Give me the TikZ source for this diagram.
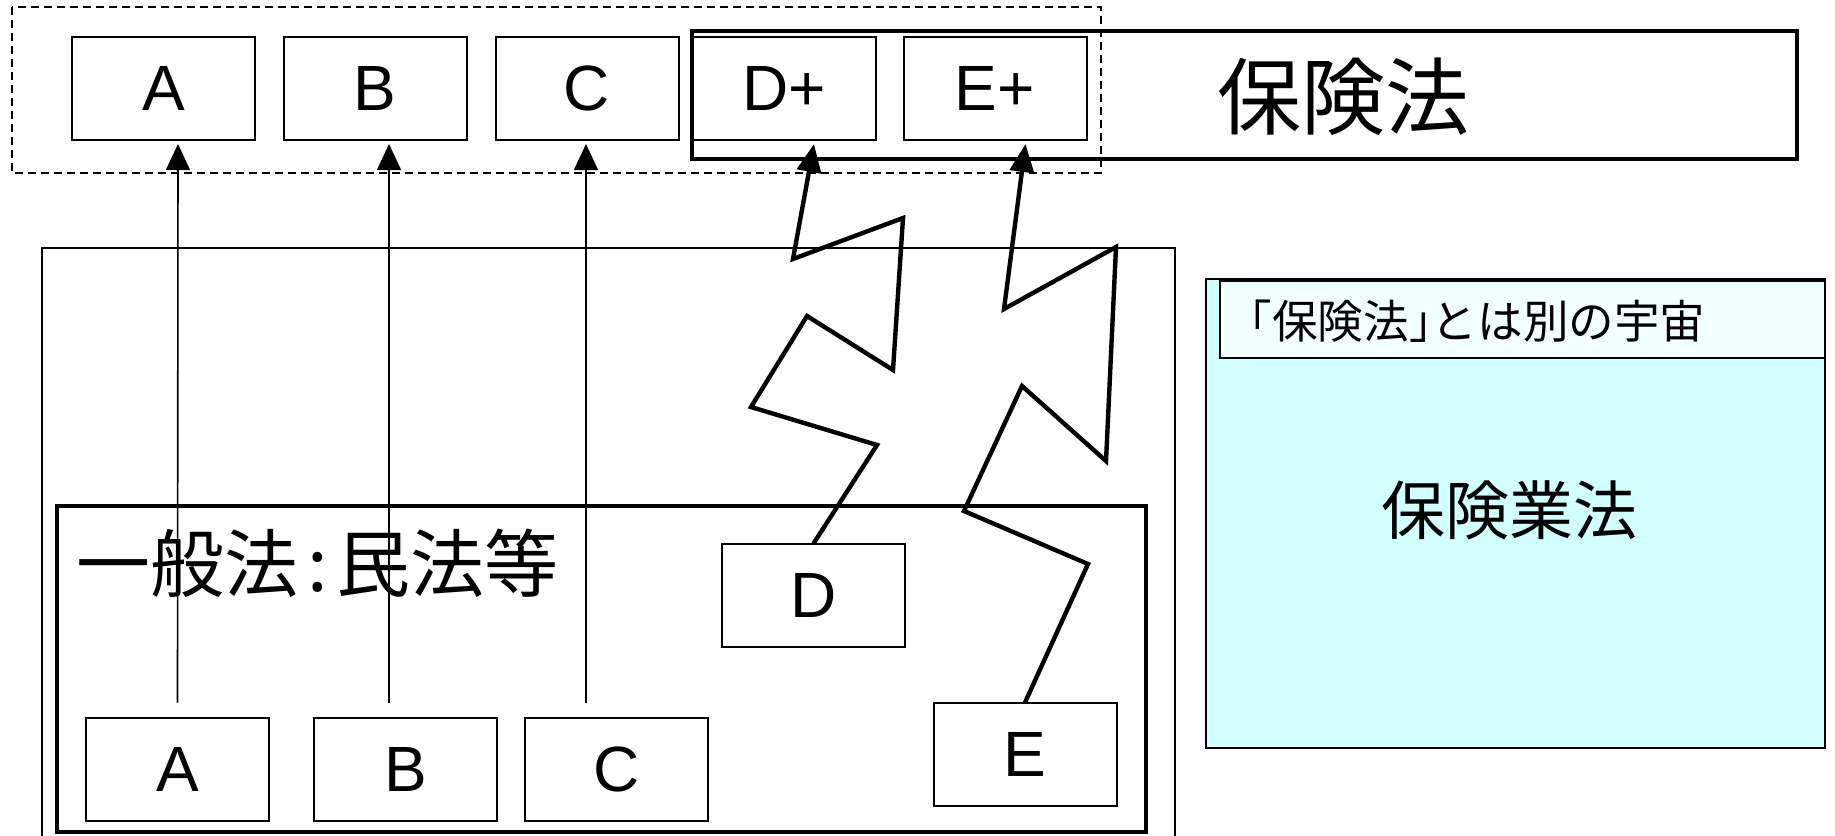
\documentclass[tikz,border=0pt]{standalone}
\usepackage{fontspec}
\setmainfont{Liberation Sans}
\newfontfamily\jp{Noto Sans CJK JP}
\newfontfamily\jph[RawFeature={+halt}]{Noto Sans CJK JP}
\usetikzlibrary{arrows.meta,calc}
\definecolor{cyanbg}{HTML}{D2FFFF}
\definecolor{headbg}{HTML}{F2FFFF}
\tikzset{
  letterbox/.style={draw, line width=1pt, fill=white, minimum width=91.5pt, minimum height=51.5pt,
    inner sep=0pt, outer sep=0pt, font=\fontsize{32}{32}\selectfont},
  thinarrow/.style={line width=0.8pt, -{Triangle[length=13pt,width=12pt]}},
  zig/.style={line width=2.2pt, line join=miter, -{Triangle[length=14pt,width=12pt]}},
  plainbox/.style={draw, inner sep=0pt, outer sep=0pt},
}
\begin{document}
\begin{tikzpicture}[x=0.5pt,y=-0.5pt]
\useasboundingbox (0,0) rectangle (1835,835);
\clip (0,0) rectangle (1835,835);
% dashed group
\draw[line width=0.7pt, dash pattern=on 4pt off 2.5pt] (12,7) rectangle (1101,173);
% 保険法 box
\node[plainbox, line width=2.3pt, minimum width=552.5pt, minimum height=64pt] (hokenbox) at (1244.5,95) {};
\node[font=\jp\fontsize{42}{42}\selectfont, inner sep=0pt] (hoken) at (1343,97) {保険法};
% top boxes
\node[letterbox] (At) at (163.5,88.5) {A};
\node[letterbox] (Bt) at (375,88.5) {B};
\node[letterbox] (Ct) at (587,88.5) {C};
\node[letterbox] (Dp) at (784,88.5) {D+};
\node[letterbox] (Ep) at (995,88.5) {E+};
% outer thin frame (cut at bottom)
\coordinate (fl) at (42,840);
\coordinate (fr) at (1175,840);
\draw[line width=0.7pt] (fl) -- (42,248) -- (1175,248) -- (fr);
% general law box
\node[plainbox, line width=2.3pt, minimum width=544.5pt, minimum height=163pt] (general) at (601.5,669) {};
\node[font=\jp\fontsize{37}{37}\selectfont, inner sep=0pt, anchor=west] (gentext) at (76,563) {一般法\hspace{0.12em}:\hspace{0.12em}民法等};
% bottom boxes
\node[letterbox] (Ab) at (177.5,769) {A};
\node[letterbox] (Bb) at (405.5,769) {B};
\node[letterbox] (Cb) at (616.5,769) {C};
\node[letterbox] (D) at (813.5,595) {D};
\node[letterbox] (E) at (1025,754) {E};
% thin arrows
\draw[thinarrow] ($(Ab.north)+(0,-15)$) -- ($(At.south)+(14.5,4)$);
\draw[thinarrow] ($(Bb.north)+(-16.5,-15)$) -- ($(Bt.south)+(14,4)$);
\draw[thinarrow] ($(Cb.north)+(-30.5,-15)$) -- ($(Ct.south)+(-1,4)$);
% zigzags
\draw[zig] (D.north) -- (877,445) -- (751,407) -- (807,316) -- (893,370) -- (903,218) -- (793,259) -- ($(Dp.south)+(30,4)$);
\draw[zig] (E.north) -- (1088,564) -- (964,511) -- (1022,386) -- (1106,461) -- (1116,247) -- (1004,309) -- ($(Ep.south)+(30.5,4)$);
% right universe box
\node[plainbox, line width=0.8pt, fill=cyanbg, minimum width=309.5pt, minimum height=234.5pt] (univ) at (1515.5,513.5) {};
\node[plainbox, line width=0.8pt, fill=headbg, minimum width=302.5pt, minimum height=38.5pt] (head) at (1522.5,319.5) {};
\node[font=\jph\fontsize{22.8}{22.8}\selectfont, inner sep=0pt, anchor=west] (headtext) at (1249,321) {「保険法」とは別の宇宙};
\node[font=\jp\fontsize{32}{32}\selectfont, inner sep=0pt] (gyoho) at (1509,510) {保険業法};
\end{tikzpicture}
\end{document}
